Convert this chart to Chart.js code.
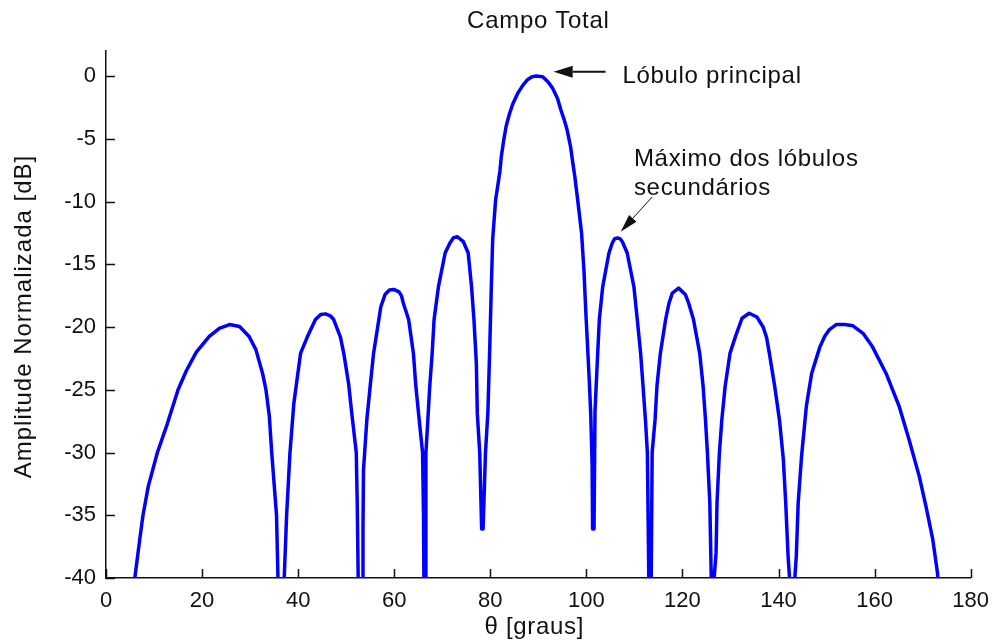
<!DOCTYPE html>
<html>
<head>
<meta charset="utf-8">
<title>Campo Total</title>
<script src="https://cdn.jsdelivr.net/npm/chart.js@4.4.1/dist/chart.umd.min.js"></script>
<style>
  html, body { margin: 0; padding: 0; background: #fff; }
  #wrap { width: 999px; height: 644px; position: relative; }
</style>
</head>
<body>
<div id="wrap"><canvas id="chart"></canvas></div>
<script>
const thetaDeg = [
  5.5, 6.0, 7.0, 7.7, 8.8, 10.7, 12.6, 15.0, 16.7, 18.8, 21.5, 23.6, 25.7, 27.8, 29.8, 31.2, 32.6, 33.3, 34.0, 34.5, 35.0, 35.5, 35.8, 36.8,
  37.1, 37.6, 38.3, 39.1, 40.5, 41.9, 43.6, 44.7, 45.7, 46.7, 47.4, 48.8, 49.5, 50.5, 51.2, 52.1, 52.3, 52.5, 53.1,
  53.4, 53.5, 53.6, 54.3, 55.0, 55.7, 56.8, 57.2, 58.1, 59.0, 59.9, 61.0, 61.5, 61.9, 63.0, 64.0, 64.5, 65.2, 65.9, 66.1, 66.4,
  66.5, 66.6, 67.0, 67.4, 67.9, 68.3, 69.2, 70.6, 71.6, 72.3, 73.1, 74.4, 75.4, 76.1, 76.6, 77.1, 77.3, 77.8, 78.2,
  78.5, 79.0, 79.5, 79.9, 80.2, 80.5, 81.1, 82.0, 82.3, 82.8, 83.3, 84.0, 84.7, 85.7, 86.8, 87.8, 88.7, 89.6, 90.9, 92.0, 93.0,
  94.0, 94.7, 95.4, 96.0, 96.7, 97.1, 97.6, 98.2, 99.0, 99.5, 99.9, 100.6, 100.9, 101.2, 101.3, 101.6,
  101.8, 102.2, 102.7, 103.4, 104.7, 105.4, 105.9, 106.5, 107.0, 107.5, 108.5, 109.9, 110.6, 111.3, 111.8, 112.3, 112.7, 113.0, 113.3,
  113.5, 113.7, 114.3, 114.7, 115.4, 116.5, 117.2, 117.9, 119.2, 120.6, 121.3, 122.3, 123.6, 124.3, 124.8, 125.2, 125.7, 126.0, 126.3,
  126.6, 127.0, 127.2, 127.7, 128.2, 128.9, 129.9, 131.0, 132.4, 133.9, 135.5, 136.8, 137.5, 138.1, 139.2, 140.2, 141.0, 141.5, 142.0, 142.3, 143.0,
  143.4, 143.7, 144.1, 144.8, 145.8, 146.9, 148.6, 149.6, 150.6, 152.0, 153.8, 155.5, 157.6, 159.6, 162.4, 165.1, 167.2, 169.3, 170.7, 172.1, 173.1, 173.5
];
const ampDb = [
  -42, -40, -37, -35, -32.7, -30, -27.9, -25, -23.5, -22, -20.75, -20.1, -19.8, -19.96, -20.75, -21.8, -23.7, -25, -27.1, -30, -32.5, -35, -40, -55,
  -40, -35, -30, -26.1, -22.1, -20.8, -19.4, -19.0, -18.95, -19.1, -19.4, -20.8, -22.1, -24.5, -27, -30, -34, -40, -55,
  -40, -36, -31.4, -27.4, -24.7, -22.1, -19.4, -18.4, -17.4, -17.05, -17.0, -17.2, -17.5, -18.1, -19.4, -22.1, -24.7, -27.4, -30, -35, -55,
  -40, -30, -27.4, -24.7, -22.1, -19.4, -16.8, -14.1, -13.3, -12.9, -12.8, -13.2, -14.1, -16.8, -19.4, -22.9, -26.9, -30, -36.1,
  -36.1, -30, -26.8, -21.5, -17, -13, -9.9, -7.6, -6.4, -5.1, -4.0, -3.0, -2.2, -1.38, -0.72, -0.27, -0.05, 0, -0.05, -0.45, -0.98,
  -1.78, -2.7, -3.5, -4.3, -5.6, -6.7, -8.0, -9.9, -12.5, -15.5, -18.9, -24.2, -26.8, -31, -36.1, -36.1,
  -26.7, -23.4, -19.4, -16.8, -14.1, -13.3, -12.95, -12.9, -12.95, -13.2, -14.1, -16.8, -19.4, -22.1, -24.7, -27.4, -30, -40, -55,
  -40, -30, -27.4, -24.7, -22.1, -19.4, -18.1, -17.3, -16.9, -17.4, -18.1, -19.4, -22.1, -24.7, -27.4, -30, -34, -40, -55,
  -40, -38, -34, -30, -27.4, -24.7, -22.1, -20.8, -19.3, -18.9, -19.2, -20.0, -20.8, -22.1, -24.7, -27.4, -30.5, -34, -38.3, -40, -55,
  -40, -38.3, -34, -30.3, -26.3, -23.7, -21.6, -20.75, -20.2, -19.8, -19.8, -19.9, -20.5, -21.6, -23.7, -26.3, -29, -31.9, -34.3, -36.9, -39.6, -42
];
const xTicks = [0, 20, 40, 60, 80, 100, 120, 140, 160, 180];
const yTicks = [-40, -35, -30, -25, -20, -15, -10, -5, 0];

const titleText = 'Campo Total';
const xLabel = 'θ [graus]';
const yLabel = 'Amplitude Normalizada [dB]';
// annotation anchors in data units: [theta, dB]
const mainLobeNote = { text: ['Lóbulo principal'], textAt: [107.5, -0.56], from: [104.0, 0.34], to: [93.2, 0.34] };
const sideLobeNote = { text: ['Máximo dos lóbulos', 'secundários'], textAt: [109.9, -7.14], from: [113.7, -9.63], to: [107.15, -12.4] };

const FONT = '"Liberation Sans", Arial, sans-serif';
const INK = '#111';

function drawArrow(ctx, x1, y1, x2, y2, lineWidth, headLen, headHalf) {
  const ang = Math.atan2(y2 - y1, x2 - x1);
  const bx = x2 - headLen * Math.cos(ang);
  const by = y2 - headLen * Math.sin(ang);
  ctx.strokeStyle = INK;
  ctx.fillStyle = INK;
  ctx.lineWidth = lineWidth;
  ctx.beginPath();
  ctx.moveTo(x1, y1);
  ctx.lineTo(bx, by);
  ctx.stroke();
  ctx.beginPath();
  ctx.moveTo(x2, y2);
  ctx.lineTo(bx + headHalf * Math.sin(ang), by - headHalf * Math.cos(ang));
  ctx.lineTo(bx - headHalf * Math.sin(ang), by + headHalf * Math.cos(ang));
  ctx.closePath();
  ctx.fill();
}

const decorations = {
  id: 'decorations',
  afterDraw(chart) {
    const { ctx, chartArea, scales } = chart;
    const xs = scales.x, ys = scales.y;
    ctx.save();

    // tick marks pointing into the plot
    ctx.strokeStyle = INK;
    ctx.lineWidth = 1.5;
    ctx.beginPath();
    xTicks.forEach(v => {
      const px = Math.round(xs.getPixelForValue(v)) + 0.5;
      ctx.moveTo(px, chartArea.bottom);
      ctx.lineTo(px, chartArea.bottom - 9);
    });
    yTicks.forEach(v => {
      const py = Math.round(ys.getPixelForValue(v)) + 0.5;
      ctx.moveTo(chartArea.left, py);
      ctx.lineTo(chartArea.left + 9, py);
    });
    ctx.stroke();

    // title and axis labels
    ctx.fillStyle = INK;
    ctx.textAlign = 'center';
    ctx.textBaseline = 'middle';
    ctx.font = `24px ${FONT}`;
    ctx.letterSpacing = '0.7px';
    const cx = (chartArea.left + chartArea.right) / 2;
    ctx.fillText(titleText, cx, 21);
    ctx.fillText(xLabel, cx - 4, 627);
    ctx.save();
    ctx.letterSpacing = '1px';
    ctx.translate(24, (chartArea.top + chartArea.bottom) / 2 + 2);
    ctx.rotate(-Math.PI / 2);
    ctx.fillText(yLabel, 0, 0);
    ctx.restore();

    // annotations
    ctx.textAlign = 'left';
    ctx.textBaseline = 'alphabetic';
    [mainLobeNote, sideLobeNote].forEach(note => {
      const tx = xs.getPixelForValue(note.textAt[0]);
      const ty = ys.getPixelForValue(note.textAt[1]);
      note.text.forEach((line, i) => ctx.fillText(line, tx, ty + i * 29.5));
    });
    ctx.letterSpacing = '0px';
    drawArrow(ctx,
      xs.getPixelForValue(mainLobeNote.from[0]), ys.getPixelForValue(mainLobeNote.from[1]),
      xs.getPixelForValue(mainLobeNote.to[0]), ys.getPixelForValue(mainLobeNote.to[1]),
      2, 19, 6);
    drawArrow(ctx,
      xs.getPixelForValue(sideLobeNote.from[0]), ys.getPixelForValue(sideLobeNote.from[1]),
      xs.getPixelForValue(sideLobeNote.to[0]), ys.getPixelForValue(sideLobeNote.to[1]),
      1, 18, 5);

    ctx.restore();
  }
};

const points = thetaDeg.map((x, i) => ({ x, y: ampDb[i] }));

new Chart(document.getElementById('chart'), {
  type: 'line',
  data: {
    datasets: [{
      data: points,
      borderColor: '#0000ff',
      borderWidth: 3.5,
      pointRadius: 0,
      tension: 0,
      borderJoinStyle: 'round',
      fill: false
    }]
  },
  options: {
    responsive: true,
    maintainAspectRatio: false,
    animation: false,
    layout: { padding: { top: 51, right: 24, left: 0, bottom: 0 } },
    plugins: {
      legend: { display: false },
      tooltip: { enabled: false },
      title: { display: false }
    },
    scales: {
      x: {
        type: 'linear',
        min: 0,
        max: 180,
        afterBuildTicks: scale => { scale.ticks = xTicks.map(value => ({ value })); },
        afterFit: scale => { scale.height = 66; },
        grid: { display: true, drawOnChartArea: false, drawTicks: false },
        border: { display: true, color: INK, width: 1.5 },
        ticks: { color: INK, padding: 10, maxRotation: 0, font: { family: FONT, size: 22 } }
      },
      y: {
        type: 'linear',
        min: -40,
        max: 2,
        afterBuildTicks: scale => { scale.ticks = yTicks.map(value => ({ value })); },
        afterFit: scale => { scale.width = 106; },
        grid: { display: true, drawOnChartArea: false, drawTicks: false },
        border: { display: true, color: INK, width: 1.5 },
        ticks: { color: INK, padding: 10, font: { family: FONT, size: 22 } }
      }
    }
  },
  plugins: [decorations]
});
</script>
</body>
</html>
